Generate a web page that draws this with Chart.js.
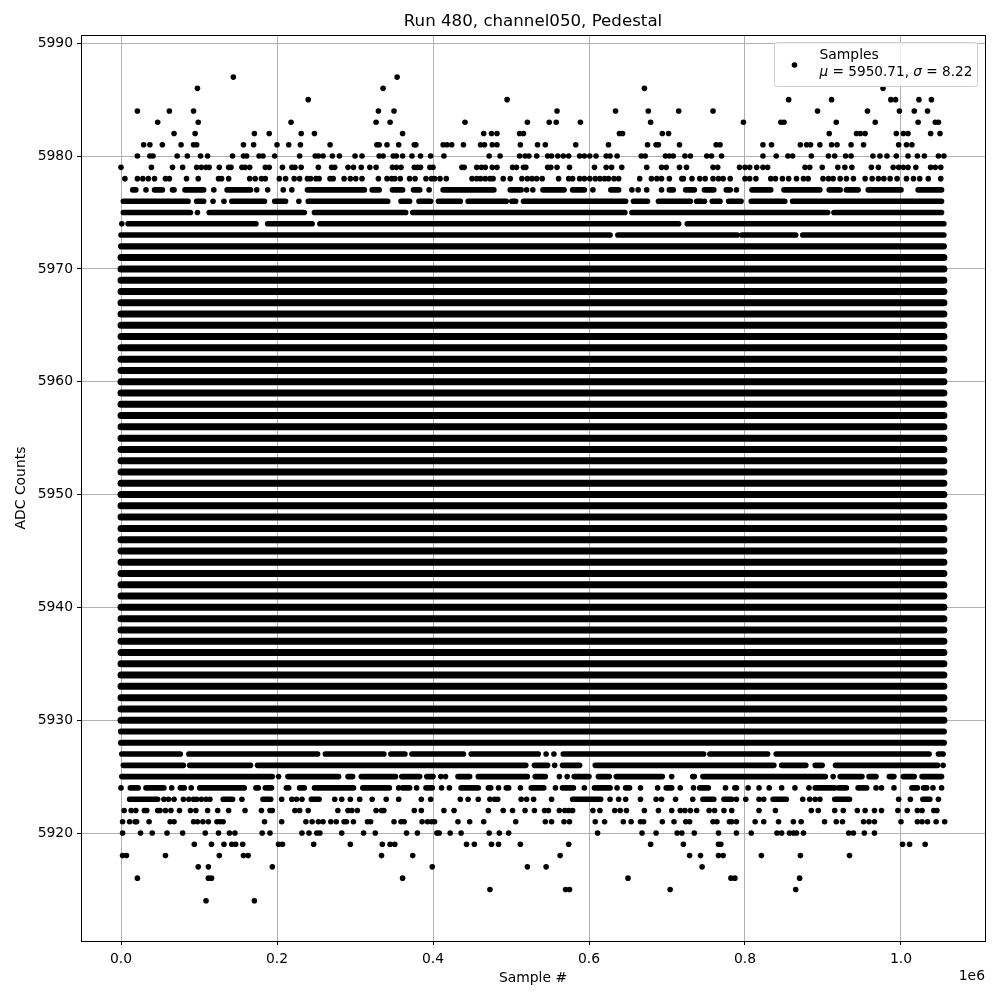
<!DOCTYPE html>
<html>
<head>
<meta charset="utf-8">
<title>Run 480, channel050, Pedestal</title>
<script src="https://cdn.jsdelivr.net/npm/chart.js@4/dist/chart.umd.min.js"></script>
<style>
  html, body { margin: 0; padding: 0; background: #fff; }
  canvas { display: block; }
</style>
</head>
<body>
<canvas id="chart" width="1000" height="1000"></canvas>
<script>
// all x values below are in thousands of samples
const xTicks = [0, 200000, 400000, 600000, 800000, 1000000];
const xTickLabels = ['0.0', '0.2', '0.4', '0.6', '0.8', '1.0'];
const yTicks = [5920, 5930, 5940, 5950, 5960, 5970, 5980, 5990];

// levels where the samples overlap into one heavy band over the whole run
const coreLevels = [5930, 5931, 5932, 5933, 5934, 5935, 5936, 5937, 5938, 5939, 5940, 5941,
  5942, 5943, 5944, 5945, 5946, 5947, 5948, 5949, 5950, 5951, 5952, 5953, 5954, 5955, 5956, 5957,
  5958, 5959, 5960, 5961, 5962, 5963, 5964, 5965, 5966, 5967, 5968, 5969, 5970, 5971];
const edgeLevels = [5928, 5929, 5972];
const fullLevelStart = 0;
const fullLevelEnd = 1055;

// levels with gaps: [first, last] runs of touching samples
const runs5977 = [[15,19],[43,53],[66,68],[82,106],[136,166],[239,312],[322,331],[348,361],[375,383],[413,478],[499,513],[541,568],[579,594],[628,638],[703,708],[727,735],[748,760],[776,781],[809,833],[850,896],[908,922],[930,945],[958,1000],[1022,1052]];
const runs5976 = [[3,86],[97,106],[142,184],[197,211],[240,342],[359,370],[382,397],[407,435],[445,494],[501,506],[516,647],[657,675],[689,730],[738,744],[758,768],[779,795],[808,851],[861,1052]];
const runs5975 = [[3,89],[113,235],[248,365],[374,646],[655,906],[914,1052]];
const runs5974 = [[9,173],[188,245],[255,715],[726,1055]];
const runs5973 = [[0,627],[637,790],[796,865],[874,1055]];
const runs5927 = [[1,76],[87,252],[262,337],[346,364],[373,439],[449,535],[567,747],[755,829],[840,1036],[1048,1054]];
const runs5926 = [[3,80],[88,166],[175,519],[530,547],[566,588],[608,837],[847,878],[890,899],[916,1047]];
const runs5925 = [[1,194],[214,279],[291,297],[308,352],[360,383],[392,400],[432,447],[458,521],[531,544],[581,600],[612,626],[635,694],[733,735],[746,903],[922,950],[959,968],[985,991],[1003,1017],[1027,1052]];
const runs5924 = [[12,22],[32,55],[76,81],[101,158],[173,176],[185,193],[212,215],[229,235],[248,298],[310,344],[361,370],[391,399],[436,458],[471,474],[494,497],[526,542],[566,580],[607,627],[647,652],[699,706],[742,753],[787,789],[890,915],[920,930],[945,956],[1014,1021],[1029,1033]];
const runs5923 = [[11,47],[131,143],[182,192],[244,254],[579,615],[746,760],[773,783],[836,853],[915,934],[1028,1037]];

// single samples, top of the distribution
const points5987 = [144, 354];
const points5986 = [98, 336, 671, 977];
const points5985 = [240, 495, 856, 911, 987, 993, 1023, 1039];
const points5984 = [21, 62, 93, 330, 350, 559, 634, 676, 715, 759, 893, 957, 998, 1017, 1034];
const points5983 = [47, 99, 218, 327, 345, 441, 521, 549, 558, 589, 679, 798, 846, 850, 917, 967, 1022, 1044, 1048];
const points5982 = [68, 95, 171, 190, 231, 248, 361, 465, 475, 482, 511, 516, 639, 643, 694, 702, 908, 943, 948, 954, 994, 1003, 1009, 1038, 1050];
const points5981 = [29, 37, 53, 77, 93, 97, 157, 170, 200, 215, 230, 268, 328, 331, 341, 356, 376, 378, 413, 418, 424, 439, 461, 466, 476, 482, 512, 534, 544, 583, 625, 675, 686, 689, 716, 763, 768, 823, 834, 871, 879, 884, 896, 911, 918, 936, 952, 997, 1007, 1014];
const points5980 = [21, 37, 41, 72, 85, 102, 111, 143, 157, 161, 177, 182, 197, 229, 249, 253, 259, 271, 280, 300, 309, 331, 336, 349, 353, 361, 373, 384, 397, 414, 472, 486, 511, 518, 523, 533, 547, 552, 560, 567, 574, 588, 594, 601, 609, 622, 627, 636, 667, 672, 698, 703, 708, 723, 730, 751, 757, 770, 823, 840, 855, 861, 885, 907, 915, 929, 936, 964, 973, 982, 994, 1009, 1021, 1030, 1048, 1055];
const points5979 = [0, 39, 66, 79, 97, 103, 109, 113, 126, 138, 141, 155, 159, 165, 185, 190, 207, 219, 223, 231, 253, 270, 274, 291, 298, 308, 319, 327, 348, 353, 359, 376, 380, 384, 396, 400, 437, 440, 456, 462, 467, 476, 482, 502, 507, 516, 519, 547, 551, 559, 575, 607, 622, 629, 642, 674, 693, 699, 716, 725, 759, 765, 793, 800, 806, 815, 823, 829, 877, 883, 899, 919, 928, 937, 962, 971, 990, 997, 1003, 1009, 1019, 1038, 1044, 1051];
const points5978 = [5, 21, 28, 35, 43, 57, 62, 84, 99, 125, 129, 138, 165, 172, 180, 185, 203, 211, 222, 229, 239, 243, 250, 254, 268, 272, 286, 294, 301, 309, 330, 341, 347, 351, 358, 370, 377, 391, 398, 402, 409, 417, 450, 456, 461, 467, 473, 477, 490, 499, 514, 521, 527, 533, 540, 561, 574, 579, 588, 594, 601, 608, 614, 620, 625, 632, 638, 665, 680, 687, 693, 703, 719, 721, 732, 742, 749, 759, 766, 772, 781, 800, 806, 814, 833, 839, 848, 856, 866, 875, 881, 900, 907, 913, 922, 930, 939, 954, 963, 971, 978, 986, 995, 1007, 1016, 1024, 1035, 1051];
const points5977 = [32, 119, 174, 188, 208, 219, 395, 520, 528, 605, 655, 663, 674, 693, 724, 789];
const points5976 = [118, 132, 228, 748];
const points5975 = [98];
const points5974 = [1];
const points5925 = [202, 410, 416, 562, 572, 706, 913];
const points5926 = [556, 1054];
const points5927 = [545, 555];

// single samples, bottom of the distribution
const points5924 = [0, 65, 90, 356, 379, 411, 421, 484, 512, 557, 594, 636, 666, 688, 717, 734, 775, 804, 818, 831, 847, 864, 882, 968, 975, 991, 1041, 1052];
const points5923 = [55, 61, 68, 80, 87, 93, 97, 103, 109, 114, 155, 206, 219, 225, 232, 274, 283, 294, 306, 322, 340, 356, 385, 397, 435, 445, 458, 473, 479, 483, 513, 520, 529, 552, 627, 638, 647, 666, 686, 693, 711, 733, 789, 801, 818, 824, 874, 883, 890, 896, 997, 1012, 1048];
const points5922 = [4, 13, 19, 30, 33, 47, 50, 57, 64, 75, 89, 96, 111, 124, 138, 159, 180, 191, 194, 223, 229, 240, 278, 291, 296, 303, 327, 334, 337, 376, 385, 414, 427, 471, 490, 502, 518, 530, 543, 548, 562, 569, 574, 579, 605, 614, 633, 640, 648, 671, 689, 706, 717, 723, 730, 738, 754, 761, 773, 783, 818, 839, 885, 894, 915, 926, 944, 954, 966, 975, 996, 1008, 1021, 1027, 1042, 1046];
const points5921 = [2, 11, 18, 20, 36, 63, 68, 93, 98, 105, 112, 123, 127, 131, 184, 206, 237, 245, 253, 259, 269, 276, 286, 289, 298, 316, 320, 350, 359, 363, 386, 393, 398, 402, 432, 447, 465, 506, 544, 552, 568, 575, 608, 620, 644, 654, 666, 670, 694, 709, 724, 729, 759, 764, 780, 783, 789, 813, 824, 843, 862, 872, 902, 917, 925, 952, 959, 966, 1000, 1021, 1027, 1034, 1045, 1056];
const points5920 = [2, 25, 40, 59, 79, 108, 125, 139, 146, 181, 191, 232, 241, 251, 255, 283, 311, 326, 366, 380, 405, 408, 422, 436, 472, 485, 497, 611, 668, 686, 713, 719, 735, 766, 789, 808, 841, 847, 857, 862, 866, 875, 933, 939, 953, 966];
const points5919 = [94, 116, 132, 142, 147, 156, 202, 207, 247, 294, 335, 345, 351, 443, 453, 475, 484, 512, 574, 679, 721, 766, 769, 1002, 1011, 1031];
const points5918 = [2, 7, 57, 126, 157, 163, 334, 374, 563, 729, 743, 766, 772, 821, 871, 934];
const points5917 = [99, 112, 194, 399, 521, 545, 745];
const points5916 = [21, 112, 116, 361, 650, 782, 787, 870];
const points5915 = [473, 570, 575, 704, 865];
const points5914 = [109, 171];

const bandRuns = [
  [5977, runs5977], [5976, runs5976], [5975, runs5975], [5974, runs5974], [5973, runs5973],
  [5927, runs5927], [5926, runs5926], [5925, runs5925], [5924, runs5924], [5923, runs5923]
];
const singlePoints = [
  [5987, points5987], [5986, points5986], [5985, points5985], [5984, points5984], [5983, points5983],
  [5982, points5982], [5981, points5981], [5980, points5980], [5979, points5979], [5978, points5978],
  [5977, points5977], [5976, points5976], [5975, points5975], [5974, points5974], [5927, points5927],
  [5926, points5926], [5925, points5925], [5924, points5924], [5923, points5923], [5922, points5922],
  [5921, points5921], [5920, points5920], [5919, points5919], [5918, points5918], [5917, points5917],
  [5916, points5916], [5915, points5915], [5914, points5914]
];

// Build line data: NaN between runs so each run is its own stroke
function runsToLine(rows) {
  const out = [];
  rows.forEach(([level, runs]) => {
    runs.forEach(([a, b]) => {
      out.push({ x: a * 1000, y: level }, { x: b * 1000, y: level }, { x: b * 1000, y: NaN });
    });
  });
  return out;
}

const fullRow = level => [level, [[fullLevelStart, fullLevelEnd]]];
const pointData = [];
singlePoints.forEach(([level, xs]) => xs.forEach(x => pointData.push({ x: x * 1000, y: level })));

const font = '"DejaVu Sans", sans-serif';

// Matplotlib style legend box + top/right spines + the 1e6 offset label
const extras = {
  id: 'extras',
  afterDraw(chart) {
    const { ctx, chartArea: a } = chart;
    ctx.save();
    ctx.strokeStyle = '#000';
    ctx.lineWidth = 1;
    ctx.strokeRect(a.left + 0.5, a.top + 0.5, a.right - a.left, a.bottom - a.top);

    ctx.fillStyle = '#000';
    ctx.font = '13.9px ' + font;
    ctx.textAlign = 'right';
    ctx.textBaseline = 'alphabetic';
    ctx.fillText('1e6', a.right, 980);

    // legend
    const bx = 774.5, by = 42.5, bw = 203, bh = 44;
    ctx.beginPath();
    ctx.roundRect(bx, by, bw, bh, 2);
    ctx.fillStyle = 'rgba(255,255,255,0.8)';
    ctx.fill();
    ctx.strokeStyle = '#d0d0d0';
    ctx.stroke();
    ctx.fillStyle = '#000';
    ctx.beginPath();
    ctx.arc(794.5, 65, 2.8, 0, Math.PI * 2);
    ctx.fill();
    ctx.textAlign = 'left';
    ctx.font = '13.9px ' + font;
    ctx.fillText('Samples', 819.5, 59);
    let x = 819.5;
    const parts = [['\u03bc', true], [' = 5950.71, ', false], ['\u03c3', true], [' = 8.22', false]];
    parts.forEach(([t, italic]) => {
      ctx.font = (italic ? 'italic ' : '') + '13.65px ' + font;
      ctx.fillText(t, x, 76);
      x += ctx.measureText(t).width;
    });
    ctx.restore();
  }
};

new Chart(document.getElementById('chart').getContext('2d'), {
  type: 'scatter',
  data: {
    datasets: [
      {
        label: 'Samples',
        data: pointData,
        backgroundColor: '#000',
        borderColor: '#000',
        pointRadius: 2.8,
        pointBorderWidth: 0,
        showLine: false
      },
      {
        label: 'Core bands',
        data: runsToLine(coreLevels.map(fullRow)),
        showLine: true,
        spanGaps: false,
        borderColor: '#000',
        borderWidth: 7,
        borderCapStyle: 'round',
        pointRadius: 0
      },
      {
        label: 'Edge bands',
        data: runsToLine(edgeLevels.map(fullRow)),
        showLine: true,
        spanGaps: false,
        borderColor: '#000',
        borderWidth: 6.2,
        borderCapStyle: 'round',
        pointRadius: 0
      },
      {
        label: 'Runs',
        data: runsToLine(bandRuns),
        showLine: true,
        spanGaps: false,
        borderColor: '#000',
        borderWidth: 5.6,
        borderCapStyle: 'round',
        pointRadius: 0
      }
    ]
  },
  options: {
    responsive: false,
    animation: false,
    layout: { padding: { top: 0, right: 15, bottom: 0, left: 0 } },
    plugins: {
      legend: { display: false },
      tooltip: { enabled: false },
      title: {
        display: true,
        fullSize: false,
        text: 'Run 480, channel050, Pedestal',
        color: '#000',
        font: { family: font, size: 16.67, weight: 'normal' },
        padding: { top: 12, bottom: 3 }
      }
    },
    scales: {
      x: {
        type: 'linear',
        min: -51300,
        max: 1107700,
        afterBuildTicks: scale => { scale.ticks = xTicks.map(v => ({ value: v })); },
        afterFit: scale => { scale.height = 59; },
        grid: { color: '#b0b0b0', lineWidth: 1, tickColor: '#000', tickLength: 4 },
        border: { color: '#000' },
        ticks: {
          color: '#000',
          font: { family: font, size: 13.9 },
          padding: 6,
          maxRotation: 0,
          autoSkip: false,
          callback: (v, i) => xTickLabels[i]
        },
        title: { display: true, text: 'Sample #', color: '#000', font: { family: font, size: 13.9 }, padding: { top: 4, bottom: 13 } }
      },
      y: {
        type: 'linear',
        min: 5910.43,
        max: 5990.73,
        afterBuildTicks: scale => { scale.ticks = yTicks.map(v => ({ value: v })); },
        afterFit: scale => { scale.width = 81; },
        grid: { color: '#b0b0b0', lineWidth: 1, tickColor: '#000', tickLength: 4 },
        border: { color: '#000' },
        ticks: {
          color: '#000',
          font: { family: font, size: 13.9 },
          padding: 4,
          autoSkip: false,
          callback: v => String(v)
        },
        title: { display: true, text: 'ADC Counts', color: '#000', font: { family: font, size: 13.9 }, padding: { top: 13, bottom: 4 } }
      }
    }
  },
  plugins: [extras]
});
</script>
</body>
</html>
